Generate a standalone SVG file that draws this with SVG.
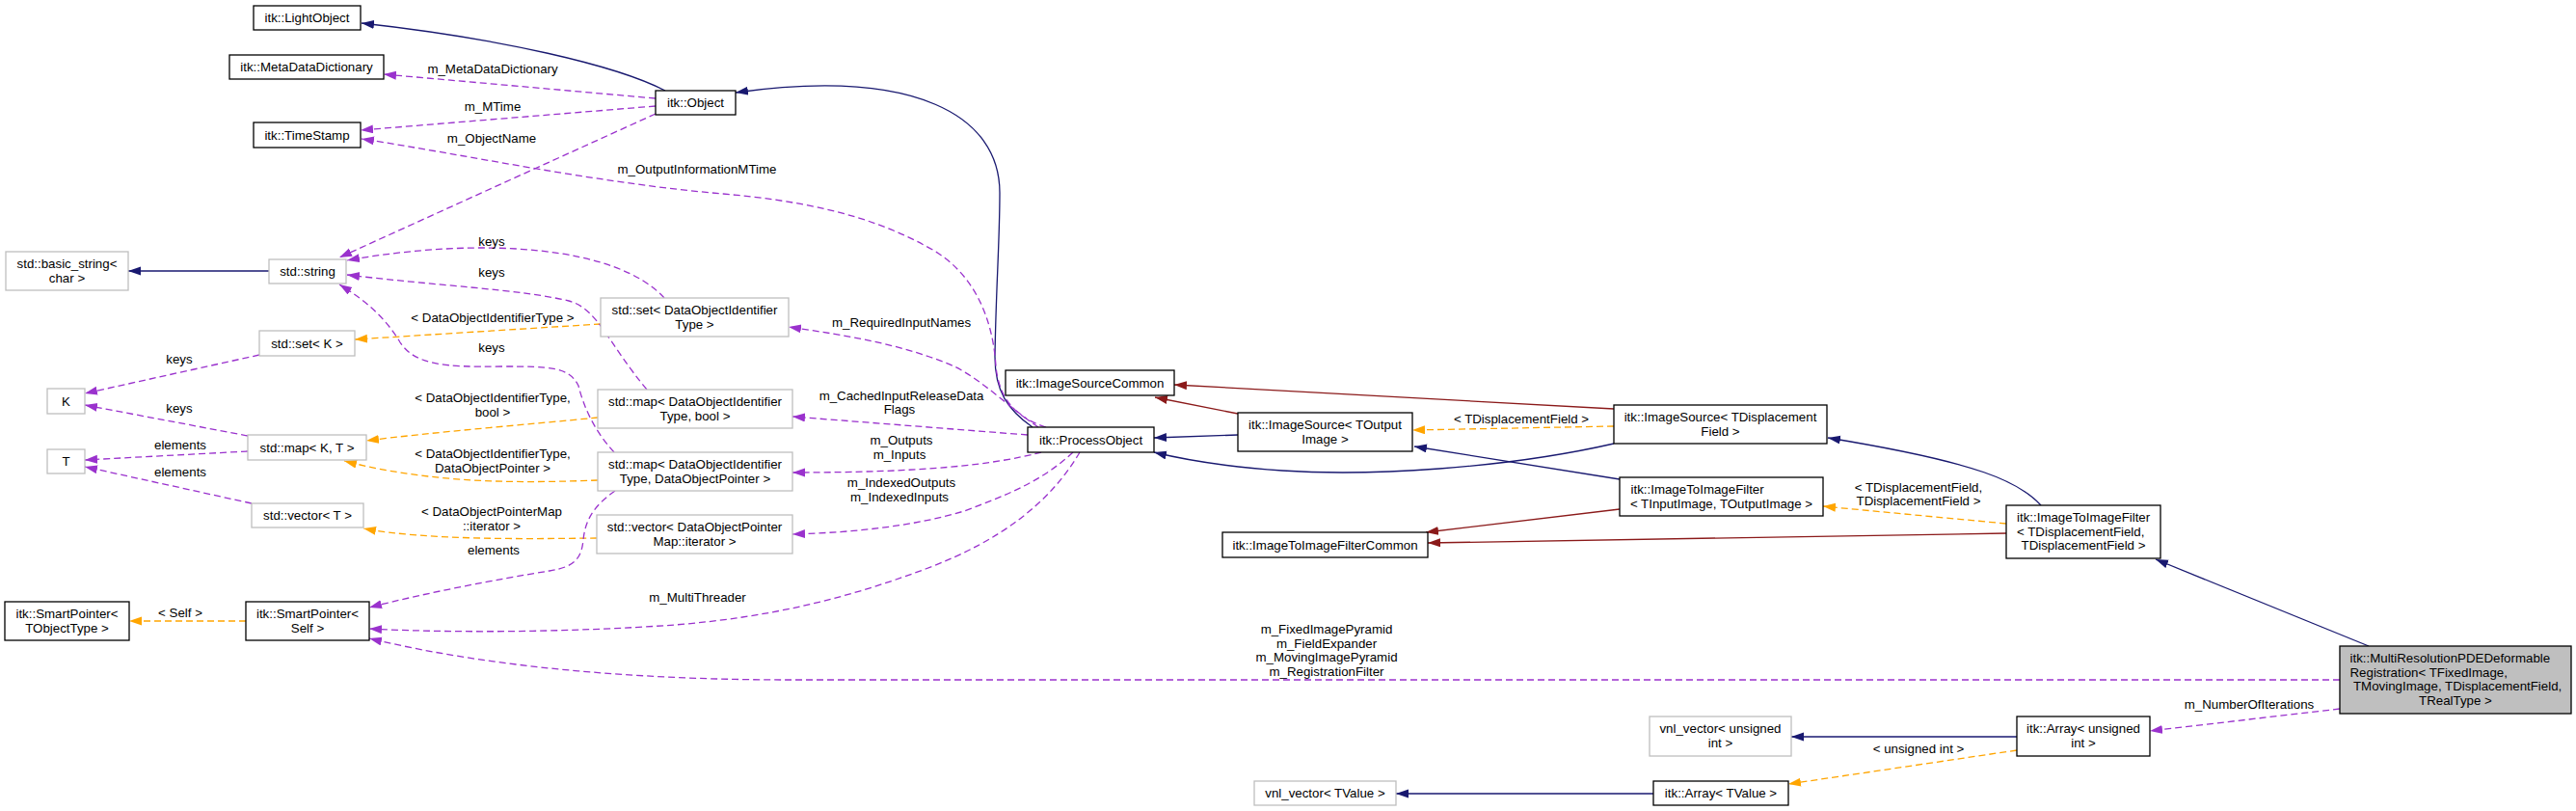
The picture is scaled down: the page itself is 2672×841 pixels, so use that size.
<svg xmlns="http://www.w3.org/2000/svg" width="2672" height="841" viewBox="0 0 2672 841">
<style>
text{font-family:"Liberation Sans",Arial,Helvetica,sans-serif;font-size:13.3px;fill:#000}
.c{text-anchor:middle}
.s{text-anchor:start}
.n rect{fill:#fff;stroke:#000;stroke-width:1.3}
.g rect{fill:#fff;stroke:#bfbfbf;stroke-width:1.3}
.m rect{fill:#bfbfbf;stroke:#000;stroke-width:1.3}
.e path{fill:none;stroke-width:1.3}
.b{stroke:#191970;marker-end:url(#ab)}
.r{stroke:#8b1a1a;marker-end:url(#ar)}
.o{stroke:#ffa500;stroke-dasharray:7,4;marker-end:url(#ao)}
.p{stroke:#9a32cd;stroke-dasharray:7,4;marker-end:url(#ap)}
</style>
<defs>
<marker id="ab" markerUnits="userSpaceOnUse" markerWidth="14" markerHeight="10" refX="13" refY="4.5" orient="auto"><path d="M0,0 L13,4.5 L0,9 z" fill="#191970"/></marker>
<marker id="ar" markerUnits="userSpaceOnUse" markerWidth="14" markerHeight="10" refX="13" refY="4.5" orient="auto"><path d="M0,0 L13,4.5 L0,9 z" fill="#8b1a1a"/></marker>
<marker id="ao" markerUnits="userSpaceOnUse" markerWidth="14" markerHeight="10" refX="13" refY="4.5" orient="auto"><path d="M0,0 L13,4.5 L0,9 z" fill="#ffa500"/></marker>
<marker id="ap" markerUnits="userSpaceOnUse" markerWidth="14" markerHeight="10" refX="13" refY="4.5" orient="auto"><path d="M0,0 L13,4.5 L0,9 z" fill="#9a32cd"/></marker>
</defs>
<rect width="2672" height="841" fill="#fff"/>
<g id="edges" class="e">
<path class="b" d="M690,94 C640,68 520,40 375,24"/>
<path class="b" d="M1071,443 C1045,425 1032,405 1032,370 C1033,300 1037,250 1037,200 C1037,120 950,70 763,96"/>
<path class="b" d="M1284,451 L1197,454"/>
<path class="b" d="M1674,460 C1560,486 1420,494 1330,488 C1270,484 1230,477 1197,469"/>
<path class="b" d="M1680,497 L1467,463"/>
<path class="b" d="M2117,524 C2095,500 2055,480 1896,454"/>
<path class="b" d="M2457,670 L2236,580"/>
<path class="b" d="M2092,764 L1858,764"/>
<path class="b" d="M1715,823 L1448,823"/>
<path class="b" d="M279,281 L133,281"/>
<path class="r" d="M1284,429 L1198,412"/>
<path class="r" d="M1674,424 L1218,399"/>
<path class="r" d="M1680,528 L1479,552"/>
<path class="r" d="M2081,553 L1481,563"/>
<path class="o" d="M1674,442 L1465,446"/>
<path class="o" d="M2081,543 L1891,525"/>
<path class="o" d="M623,336 L368,352"/>
<path class="o" d="M620,433 C550,440 450,448 380,457"/>
<path class="o" d="M620,498 C540,501 450,502 357,478"/>
<path class="o" d="M619,558 C540,559 440,560 377,548"/>
<path class="o" d="M255,644 L134,644"/>
<path class="o" d="M2092,778 L1855,813"/>
<path class="p" d="M680,102 L398,77"/>
<path class="p" d="M680,110 L374,135"/>
<path class="p" d="M1085,443 C1050,432 1036,410 1033,380 C1030,330 1010,280 960,255 C900,222 830,208 750,201 C620,190 480,160 375,144"/>
<path class="p" d="M680,118 L352,267"/>
<path class="p" d="M689,309 C640,255 500,245 360,270"/>
<path class="p" d="M671,404 C630,355 620,320 590,312 C540,300 450,296 360,285"/>
<path class="p" d="M637,469 C615,445 605,420 600,400 C590,380 570,380 520,380 C460,381 430,378 415,355 C400,330 380,312 352,295"/>
<path class="p" d="M269,368 L88,408"/>
<path class="p" d="M257,452 L88,420"/>
<path class="p" d="M257,468 L88,477"/>
<path class="p" d="M261,522 L88,484"/>
<path class="p" d="M638,509 C615,525 607,540 605,560 C603,580 595,588 570,592 C520,600 440,615 383,630"/>
<path class="p" d="M1077,443 C1050,425 1020,395 990,380 C940,358 880,348 818,339"/>
<path class="p" d="M1066,451 L822,432"/>
<path class="p" d="M1080,469 C1030,482 960,490 822,490"/>
<path class="p" d="M1113,469 C1080,500 1040,515 1000,530 C950,545 890,552 822,554"/>
<path class="p" d="M1120,469 C1090,520 1040,560 960,590 C880,620 800,640 700,648 C600,655 480,657 383,652"/>
<path class="p" d="M2427,705 L820,705 C680,705 520,695 383,662"/>
<path class="p" d="M2427,735 L2230,758"/>
<text class="c" x="1578" y="438.5">&lt; TDisplacementField &gt;</text>
<text class="c" x="1990" y="509.5">&lt; TDisplacementField,</text>
<text class="c" x="1990" y="524">TDisplacementField &gt;</text>
<text class="c" x="511" y="333.5">&lt; DataObjectIdentifierType &gt;</text>
<text class="c" x="511" y="417">&lt; DataObjectIdentifierType,</text>
<text class="c" x="511" y="432">bool &gt;</text>
<text class="c" x="511" y="475">&lt; DataObjectIdentifierType,</text>
<text class="c" x="511" y="489.5">DataObjectPointer &gt;</text>
<text class="c" x="510" y="535">&lt; DataObjectPointerMap</text>
<text class="c" x="510" y="549.5">::iterator &gt;</text>
<text class="c" x="187" y="639.5">&lt; Self &gt;</text>
<text class="c" x="1990" y="780.5">&lt; unsigned int &gt;</text>
<text class="c" x="511" y="76">m_MetaDataDictionary</text>
<text class="c" x="511" y="115">m_MTime</text>
<text class="c" x="723" y="180">m_OutputInformationMTime</text>
<text class="c" x="510" y="147.5">m_ObjectName</text>
<text class="c" x="510" y="255">keys</text>
<text class="c" x="510" y="287">keys</text>
<text class="c" x="510" y="364.5">keys</text>
<text class="c" x="186" y="376.5">keys</text>
<text class="c" x="186" y="428">keys</text>
<text class="c" x="187" y="465.5">elements</text>
<text class="c" x="187" y="493.5">elements</text>
<text class="c" x="512" y="575">elements</text>
<text class="c" x="935" y="338.5">m_RequiredInputNames</text>
<text class="c" x="935" y="415">m_CachedInputReleaseData</text>
<text class="c" x="933" y="429">Flags</text>
<text class="c" x="935" y="461">m_Outputs</text>
<text class="c" x="933" y="476">m_Inputs</text>
<text class="c" x="935" y="505">m_IndexedOutputs</text>
<text class="c" x="933" y="520">m_IndexedInputs</text>
<text class="c" x="723.5" y="623.5">m_MultiThreader</text>
<text class="c" x="1376" y="657">m_FixedImagePyramid</text>
<text class="c" x="1376" y="671.5">m_FieldExpander</text>
<text class="c" x="1376" y="686">m_MovingImagePyramid</text>
<text class="c" x="1376" y="700.5">m_RegistrationFilter</text>
<text class="c" x="2333" y="735">m_NumberOfIterations</text>
</g>
<g id="n_lightobject" class="n"><rect x="263" y="6" width="111" height="25"/><text class="c" x="318.5" y="23">itk::LightObject</text></g>
<g id="n_metadatadictionary" class="n"><rect x="238" y="57" width="160" height="25"/><text class="c" x="318" y="74">itk::MetaDataDictionary</text></g>
<g id="n_object" class="n"><rect x="680" y="94" width="83" height="25"/><text class="c" x="721.5" y="111">itk::Object</text></g>
<g id="n_timestamp" class="n"><rect x="263" y="127" width="111" height="26"/><text class="c" x="318.5" y="144.6">itk::TimeStamp</text></g>
<g id="n_basic_string" class="g"><rect x="6" y="261" width="127" height="40"/><text class="c" x="69.5" y="278">std::basic_string&lt;</text><text class="c" x="69.5" y="293">char &gt;</text></g>
<g id="n_string" class="g"><rect x="279" y="269" width="80" height="25"/><text class="c" x="319" y="286">std::string</text></g>
<g id="n_set_k" class="g"><rect x="269" y="343" width="99" height="26"/><text class="c" x="318.5" y="360.6">std::set&lt; K &gt;</text></g>
<g id="n_set_doi" class="g"><rect x="623" y="309" width="195" height="40"/><text class="c" x="720.5" y="326">std::set&lt; DataObjectIdentifier</text><text class="c" x="720.5" y="341">Type &gt;</text></g>
<g id="n_k" class="g"><rect x="49" y="403" width="39" height="26"/><text class="c" x="68.5" y="420.6">K</text></g>
<g id="n_t" class="g"><rect x="49" y="466" width="39" height="25"/><text class="c" x="68.5" y="483.1">T</text></g>
<g id="n_map_kt" class="g"><rect x="257" y="451" width="123" height="26"/><text class="c" x="318.5" y="468.6">std::map&lt; K, T &gt;</text></g>
<g id="n_vector_t" class="g"><rect x="261" y="522" width="116" height="25"/><text class="c" x="319" y="539.1">std::vector&lt; T &gt;</text></g>
<g id="n_map_bool" class="g"><rect x="620" y="404" width="202" height="40"/><text class="c" x="721" y="421">std::map&lt; DataObjectIdentifier</text><text class="c" x="721" y="436">Type, bool &gt;</text></g>
<g id="n_map_dop" class="g"><rect x="620" y="469" width="202" height="40"/><text class="c" x="721" y="486">std::map&lt; DataObjectIdentifier</text><text class="c" x="721" y="501">Type, DataObjectPointer &gt;</text></g>
<g id="n_vector_dopmap" class="g"><rect x="619" y="534" width="203" height="40"/><text class="c" x="720.5" y="551">std::vector&lt; DataObjectPointer</text><text class="c" x="720.5" y="566">Map::iterator &gt;</text></g>
<g id="n_smartpointer_t" class="n"><rect x="5" y="624" width="129" height="40"/><text class="c" x="69.5" y="641">itk::SmartPointer&lt;</text><text class="c" x="69.5" y="656">TObjectType &gt;</text></g>
<g id="n_smartpointer_self" class="n"><rect x="255" y="624" width="128" height="40"/><text class="c" x="319" y="641">itk::SmartPointer&lt;</text><text class="c" x="319" y="656">Self &gt;</text></g>
<g id="n_imagesourcecommon" class="n"><rect x="1043" y="384" width="175" height="26"/><text class="c" x="1130.5" y="401.6">itk::ImageSourceCommon</text></g>
<g id="n_processobject" class="n"><rect x="1066" y="443" width="131" height="26"/><text class="c" x="1131.5" y="460.6">itk::ProcessObject</text></g>
<g id="n_imagesource_out" class="n"><rect x="1284" y="428" width="181" height="40"/><text class="c" x="1374.5" y="445">itk::ImageSource&lt; TOutput</text><text class="c" x="1374.5" y="460">Image &gt;</text></g>
<g id="n_imagetoimagefiltercommon" class="n"><rect x="1268" y="552" width="213" height="26"/><text class="c" x="1374.5" y="569.6">itk::ImageToImageFilterCommon</text></g>
<g id="n_imagesource_disp" class="n"><rect x="1674" y="420" width="221" height="40"/><text class="c" x="1784.5" y="437">itk::ImageSource&lt; TDisplacement</text><text class="c" x="1784.5" y="452">Field &gt;</text></g>
<g id="n_itif_inout" class="n"><rect x="1680" y="495" width="211" height="40"/><text class="s" x="1691.5" y="512">itk::ImageToImageFilter</text><text class="c" x="1785.5" y="527">&lt; TInputImage, TOutputImage &gt;</text></g>
<g id="n_itif_disp" class="n"><rect x="2081" y="524" width="160" height="55"/><text class="s" x="2092" y="541.3">itk::ImageToImageFilter</text><text class="s" x="2092" y="555.8">&lt; TDisplacementField,</text><text class="c" x="2161" y="570.3">TDisplacementField &gt;</text></g>
<g id="n_multires" class="m"><rect x="2427" y="670" width="240" height="70"/><text class="s" x="2437.5" y="687.3">itk::MultiResolutionPDEDeformable</text><text class="s" x="2437.5" y="701.8">Registration&lt; TFixedImage,</text><text class="s" x="2437.5" y="716.3" xml:space="preserve"> TMovingImage, TDisplacementField,</text><text class="c" x="2547" y="731">TRealType &gt;</text></g>
<g id="n_vnl_uint" class="g"><rect x="1711" y="743" width="147" height="41"/><text class="c" x="1784.5" y="760.3">vnl_vector&lt; unsigned</text><text class="c" x="1784.5" y="775.3">int &gt;</text></g>
<g id="n_array_uint" class="n"><rect x="2092" y="743" width="138" height="41"/><text class="c" x="2161" y="760.3">itk::Array&lt; unsigned</text><text class="c" x="2161" y="775.3">int &gt;</text></g>
<g id="n_array_tvalue" class="n"><rect x="1715" y="810" width="140" height="25"/><text class="c" x="1785" y="827.1">itk::Array&lt; TValue &gt;</text></g>
<g id="n_vnl_tvalue" class="g"><rect x="1301" y="810" width="147" height="25"/><text class="c" x="1374.5" y="827.1">vnl_vector&lt; TValue &gt;</text></g>
</svg>
